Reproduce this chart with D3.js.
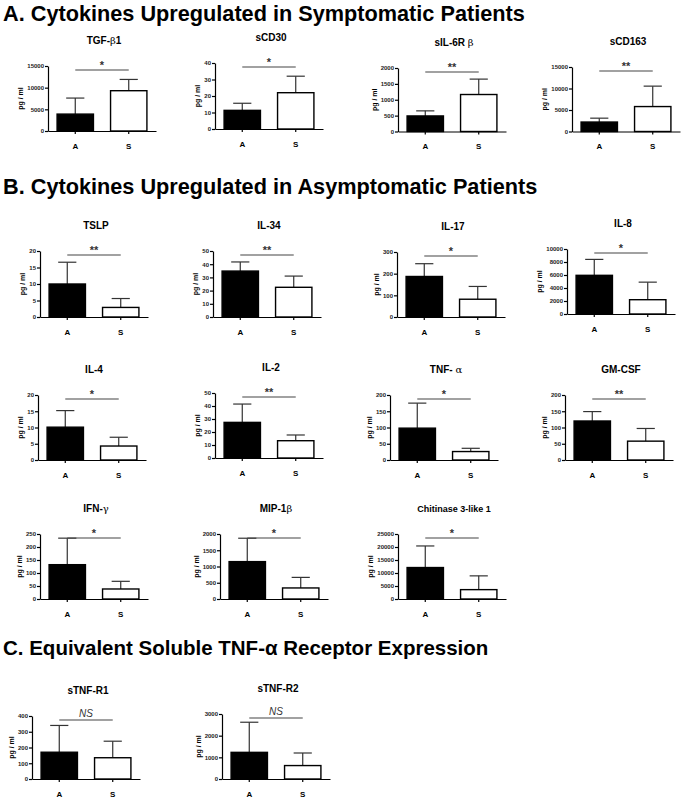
<!DOCTYPE html>
<html>
<head>
<meta charset="utf-8">
<title>Cytokines</title>
<script src="https://cdn.jsdelivr.net/npm/d3@7"></script>
<style>
  body { margin: 0; background: #fff; }
  svg { font-family: "Liberation Sans", Arial, sans-serif; }
</style>
</head>
<body>
<svg id="chart" width="685" height="800"></svg>
<script>
// ---- data ----
var groups = ["A", "S"];
var sectionTitles = [
  "A. Cytokines Upregulated in Symptomatic Patients",
  "B. Cytokines Upregulated in Asymptomatic Patients",
  "C. Equivalent Soluble TNF-\u03b1 Receptor Expression"
];
// panel titles: [plain part, greek part, trailing part]
var panelNames = [
  ["TGF-", "\u03b2", "1"], ["sCD30", "", ""], ["sIL-6R ", "\u03b2", ""], ["sCD163", "", ""],
  ["TSLP", "", ""], ["IL-34", "", ""], ["IL-17", "", ""], ["IL-8", "", ""],
  ["IL-4", "", ""], ["IL-2", "", ""], ["TNF- ", "\u03b1", ""], ["GM-CSF", "", ""],
  ["IFN-", "\u03b3", ""], ["MIP-1", "\u03b2", ""], ["Chitinase 3-like 1", "", ""],
  ["sTNF-R1", "", ""], ["sTNF-R2", "", ""]
];
var meanA = [3900, 11.3, 490, 2200, 10, 34.8, 187, 5950, 10.1, 27.4, 98, 120, 132, 1150, 12100, 170, 1230];
var sdA   = [3700, 4.3, 160, 900, 6.6, 6.9, 59, 2450, 5.1, 14.1, 77, 29, 102, 720, 8300, 170, 1390];
var meanS = [9300, 22, 1165, 5800, 2.9, 22.5, 82, 2200, 4.3, 13.3, 26, 58, 38.5, 340, 3600, 135, 620];
var sdS   = [2600, 10, 485, 4750, 2.7, 8.5, 59, 2700, 2.7, 4.4, 10, 39, 29.5, 325, 5300, 105, 580];
var yMax  = [15000, 40, 2000, 15000, 20, 50, 300, 10000, 20, 50, 200, 200, 250, 2000, 25000, 400, 3000];
var yStep = [5000, 10, 500, 5000, 5, 10, 100, 2000, 5, 10, 50, 50, 50, 500, 5000, 100, 1000];
var sigLabels = ["*", "*", "**", "**", "**", "**", "*", "*", "*", "**", "*", "**", "*", "*", "*", "NS", "NS"];

// ---- layout (positions only) ----
var sectionY = [21, 194, 655];
var sectionSize = [21.7, 21.7, 20.5];
var panelPos = [
  [48, 66, 131], [215, 63, 129], [398, 68, 131.5], [572, 67, 131.5],
  [40, 251, 317], [213, 251, 317], [397, 252, 317], [567, 249, 314],
  [38, 395, 460], [215, 393, 458], [390, 395, 460], [565, 395, 460],
  [40, 534, 599], [220, 534, 599], [398, 534, 599],
  [32, 716, 779], [222, 714, 779]
];
var plotW = 108;

var svg = d3.select("#chart");

svg.selectAll("text.section")
  .data(sectionTitles)
  .enter().append("text")
  .attr("class", "section")
  .attr("x", 3)
  .attr("y", function(d, i) { return sectionY[i]; })
  .style("font-size", function(d, i) { return sectionSize[i] + "px"; })
  .style("font-weight", "bold")
  .text(function(d) { return d; });

panelNames.forEach(function(name, i) {
  var x0 = panelPos[i][0], top = panelPos[i][1], base = panelPos[i][2];
  var g = svg.append("g");

  var y = d3.scaleLinear().domain([0, yMax[i]]).range([base, top]);
  var x = d3.scaleBand().domain(groups).range([x0, x0 + plotW])
    .paddingInner(0.32).paddingOuter(0.17);
  var bw = x.bandwidth();
  var vals = [{g: "A", m: meanA[i], sd: sdA[i]}, {g: "S", m: meanS[i], sd: sdS[i]}];

  // error bars (upper only)
  var eb = g.selectAll(".err").data(vals).enter().append("g");
  eb.append("line")
    .attr("x1", function(d) { return x(d.g) + bw / 2; })
    .attr("x2", function(d) { return x(d.g) + bw / 2; })
    .attr("y1", function(d) { return y(d.m); })
    .attr("y2", function(d) { return y(d.m + d.sd); })
    .style("stroke", "#333").style("stroke-width", 1.2);
  eb.append("line")
    .attr("x1", function(d) { return x(d.g) + bw / 4; })
    .attr("x2", function(d) { return x(d.g) + bw * 3 / 4; })
    .attr("y1", function(d) { return y(d.m + d.sd); })
    .attr("y2", function(d) { return y(d.m + d.sd); })
    .style("stroke", "#333").style("stroke-width", 1.2);

  g.selectAll(".bar").data(vals).enter().append("rect")
    .attr("x", function(d) { return x(d.g); })
    .attr("y", function(d) { return y(d.m); })
    .attr("width", bw)
    .attr("height", function(d) { return base - y(d.m); })
    .style("fill", function(d) { return d.g == "A" ? "#000" : "#fff"; })
    .style("stroke", "#000").style("stroke-width", 1.4);

  var yAxis = g.append("g")
    .attr("transform", "translate(" + x0 + ",0)")
    .call(d3.axisLeft(y).tickValues(d3.range(0, yMax[i] + 1e-9, yStep[i]))
      .tickSize(3).tickSizeOuter(0).tickPadding(1).tickFormat(d3.format("d")));
  yAxis.selectAll("text").style("font-size", "6px").style("font-weight", "bold").attr("fill", "#222");
  yAxis.selectAll("line, path").style("stroke-width", 1.2);

  var xAxis = g.append("g")
    .attr("transform", "translate(0," + base + ")")
    .call(d3.axisBottom(x).tickSize(3).tickSizeOuter(0).tickPadding(9));
  xAxis.selectAll("text").style("font-size", "8px").style("font-weight", "bold").attr("fill", "#000");
  xAxis.selectAll("line, path").style("stroke-width", 1.2);

  // y label placed left of tick labels
  var tb = yAxis.node().getBBox();
  g.append("text")
    .attr("transform", "translate(" + (x0 + tb.x - 4) + "," + ((top + base) / 2) + ") rotate(-90)")
    .attr("text-anchor", "middle")
    .style("font-size", "7px").style("font-weight", "bold")
    .text("pg / ml");

  // panel title
  var t = g.append("text")
    .attr("x", x0 + 56).attr("y", top - 22)
    .attr("text-anchor", "middle")
    .style("font-size", name[0].length > 10 ? "9px" : "10px").style("font-weight", "bold");
  t.append("tspan").text(name[0]);
  if (name[1]) t.append("tspan").style("font-weight", "normal")
    .style("font-family", "'DejaVu Serif', serif").text(name[1]);
  if (name[2]) t.append("tspan").text(name[2]);

  // significance bar
  var ly = top + 4;
  g.append("line")
    .attr("x1", x("A") + bw / 2).attr("x2", x("S") + bw / 2)
    .attr("y1", ly).attr("y2", ly)
    .style("stroke", "#444").style("stroke-width", 1.1);
  var ns = sigLabels[i] == "NS";
  g.append("text")
    .attr("x", (x("A") + x("S")) / 2 + bw / 2)
    .attr("y", ns ? ly - 3 : ly - 1)
    .attr("text-anchor", "middle")
    .style("font-size", ns ? "10px" : "11px")
    .style("font-weight", ns ? "normal" : "bold")
    .style("font-style", ns ? "italic" : "normal")
    .style("fill", "#333")
    .text(sigLabels[i]);
});
</script>
</body>
</html>
